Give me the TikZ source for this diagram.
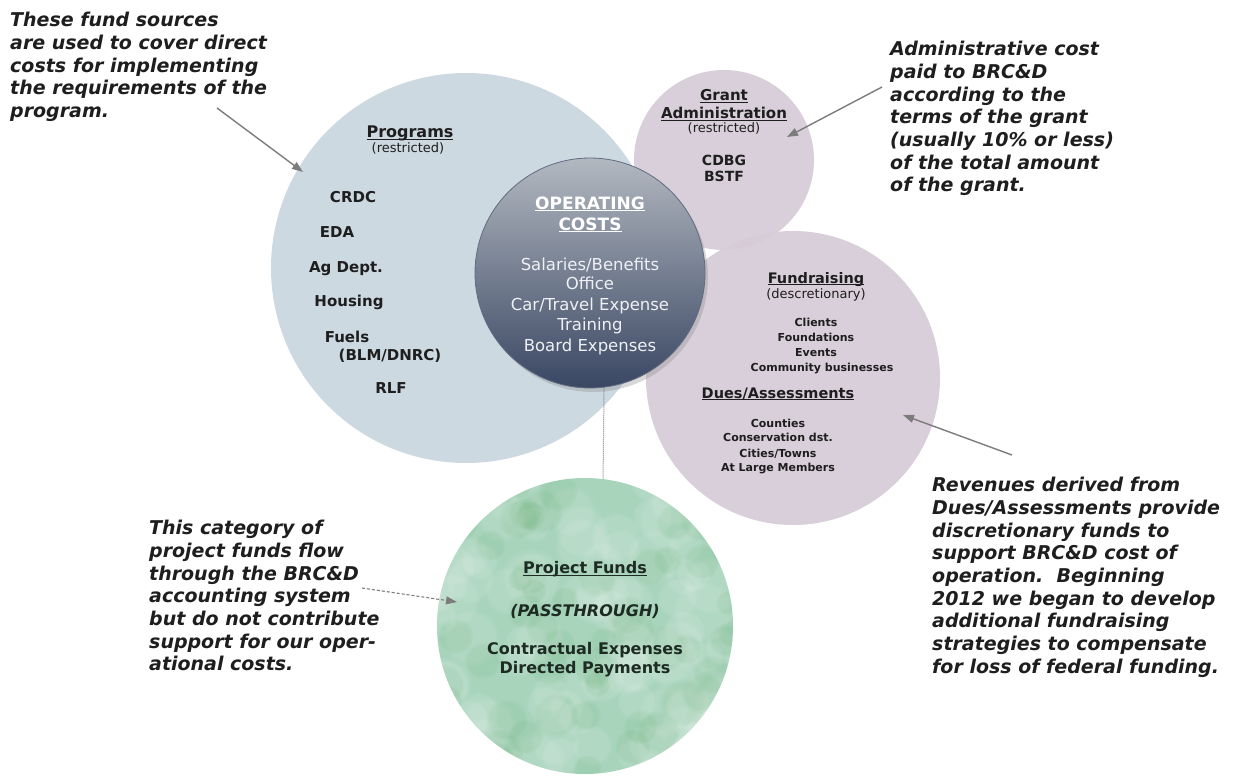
\documentclass[tikz,border=0pt]{standalone}
\usepackage{fontspec}
\setmainfont{DejaVu Sans}
\usetikzlibrary{arrows.meta,shadows,fadings}

\definecolor{progfill}{HTML}{CDD9E1}
\definecolor{purplefill}{HTML}{D6CBD7}
\definecolor{greenfill}{HTML}{A8D4BC}
\definecolor{opstop}{HTML}{B2B8C0}
\definecolor{opsmid}{HTML}{6E798C}
\definecolor{opsbottom}{HTML}{3A4763}
\definecolor{ink}{HTML}{1E1E1E}
\definecolor{greenink}{HTML}{1D2B23}
\definecolor{opsink}{HTML}{EEF1F4}
\definecolor{arrowgray}{HTML}{7C7C7C}

\newcommand{\fsz}[2]{\fontsize{#1}{#2}\selectfont}
% underline drawn just below the baseline (through descenders)
\newcommand{\ulbar}[1]{{\setbox0\hbox{#1}\rlap{\rule[-2.4pt]{\wd0}{1.1pt}}\box0}}

\begin{document}
\begin{tikzpicture}[x=1pt,y=-1pt,
  fund/.style={circle, inner sep=0pt, minimum size=#1},
  note/.style={anchor=north west, align=left, inner sep=0pt, text=ink,
    font=\fsz{19}{22.7}\bfseries\itshape},
  head/.style={anchor=base, inner sep=0pt, text=ink, font=\fsz{#1}{#1}\bfseries},
  sub/.style={anchor=base, inner sep=0pt, text=ink, font=\fsz{13}{13}},
  item/.style={anchor=base, inner sep=0pt, text=ink, font=\fsz{#1}{#1}\bfseries},
  opsline/.style={anchor=base, inner sep=0pt, text=opsink, font=\fsz{16.5}{16.5}},
  opshead/.style={anchor=base, inner sep=0pt, text=white, font=\fsz{17}{17}\bfseries},
  pointer/.style={draw=arrowgray, line width=1.4pt,
    -{Triangle[length=11pt,width=8pt]}},
  dashpointer/.style={draw=arrowgray, line width=1.1pt, densely dashed,
    -{Triangle[length=11pt,width=8pt]}}
]
\useasboundingbox (0,0) rectangle (1240,781);
\fill[white] (0,0) rectangle (1240,781);

% --- fund circles ---------------------------------------------------------
\node[fund=390pt, fill=progfill] (prog) at (466,268) {};
\node[fund=180pt, fill=purplefill, fill opacity=0.92] (grant) at (724,160) {};
\node[fund=294pt, fill=purplefill, fill opacity=0.92] (fund) at (793,378) {};
\node[fund=296pt, fill=greenfill] (proj) at (585,626) {};

% soft cloudy texture on the pass-through circle
\begin{scope}
  \path[clip] (proj.center) circle[radius=148pt];
  \pgfmathsetseed{11}
  \foreach \i in {1,...,90}{
    \pgfmathsetmacro\px{585+150*rand}
    \pgfmathsetmacro\py{626+150*rand}
    \pgfmathsetmacro\pr{16+16*rnd}
    \fill[white, opacity=0.10, path fading=circle with fuzzy edge 20 percent]
      (\px,\py) circle[radius=\pr pt];
  }
  \foreach \i in {1,...,60}{
    \pgfmathsetmacro\px{585+150*rand}
    \pgfmathsetmacro\py{626+150*rand}
    \pgfmathsetmacro\pr{12+12*rnd}
    \fill[black!55!green, opacity=0.05, path fading=circle with fuzzy edge 20 percent]
      (\px,\py) circle[radius=\pr pt];
  }
\end{scope}

% --- link between operating costs and project funds ------------------------
\node[fund=230pt] (opsgeom) at (590,273) {};
\draw[arrowgray, line width=1pt, densely dotted] (opsgeom.-83.5) -- (proj.83);

% --- operating costs circle --------------------------------------------------
\node[fund=230pt, draw=opsbottom!80, line width=0.8pt,
      top color=opstop, middle color=opsmid, bottom color=opsbottom,
      drop shadow={shadow xshift=3pt, shadow yshift=-4pt, opacity=0.3}]
      (ops) at (590,273) {};

% --- Programs texts ----------------------------------------------------------
\node[head=16] (progT) at (410,138) {\ulbar{Programs}};
\node[sub] (progS) at (408,153) {(restricted)};
\node[item=15] (p1) at (353,202.5) {CRDC};
\node[item=15] (p2) at (337,237.5) {EDA};
\node[item=15] (p3) at (346,272.5) {Ag Dept.};
\node[item=15] (p4) at (349,306.5) {Housing};
\node[item=15] (p5) at (347,342.5) {Fuels};
\node[item=15] (p6) at (390,360.5) {(BLM/DNRC)};
\node[item=15] (p7) at (391,393) {RLF};

% --- Grant Administration texts ----------------------------------------------
\node[head=15] (grT1) at (724,100.5) {\ulbar{Grant}};
\node[head=15] (grT2) at (724,118.5) {\ulbar{Administration}};
\node[sub] (grS) at (724,133) {(restricted)};
\node[item=14] (g1) at (724,165) {CDBG};
\node[item=14] (g2) at (724,182) {BSTF};

% --- Fundraising and dues texts ----------------------------------------------
\node[head=14.5] (frT) at (816,283) {\ulbar{Fundraising}};
\node[sub] (frS) at (816,298) {(descretionary)};
\node[item=11] (f1) at (816,326) {Clients};
\node[item=11] (f2) at (816,341) {Foundations};
\node[item=11] (f3) at (816,356) {Events};
\node[item=11] (f4) at (822,371) {Community businesses};
\node[head=14.5] (duT) at (778,398) {\ulbar{Dues/Assessments}};
\node[item=11] (d1) at (778,427) {Counties};
\node[item=11] (d2) at (778,441) {Conservation dst.};
\node[item=11] (d3) at (778,457) {Cities/Towns};
\node[item=11] (d4) at (778,471) {At Large Members};

% --- Operating costs texts ---------------------------------------------------
\node[opshead] (opT1) at (590,209) {\ulbar{OPERATING}};
\node[opshead] (opT2) at (590,230) {\ulbar{COSTS}};
\node[opsline] (o1) at (590,270) {Salaries/Benefits};
\node[opsline] (o2) at (590,289.5) {Office};
\node[opsline] (o3) at (590,310) {Car/Travel Expense};
\node[opsline] (o4) at (590,330.5) {Training};
\node[opsline] (o5) at (590,351) {Board Expenses};

% --- Project funds texts -----------------------------------------------------
\node[head=16, text=greenink] (pjT) at (585,573.5) {\ulbar{Project Funds}};
\node[anchor=base, inner sep=0pt, text=greenink, font=\fsz{16}{16}\bfseries\itshape]
  (pjS) at (585,616) {(PASSTHROUGH)};
\node[item=16, text=greenink] (pj1) at (585,654) {Contractual Expenses};
\node[item=16, text=greenink] (pj2) at (585,673) {Directed Payments};

% --- annotations ---------------------------------------------------------------
\node[note] (noteProg) at (10,12) {These fund sources\\are used to cover direct\\costs for implementing\\the requirements of the\\program.};
\node[note] (noteGrant) at (890,41) {Administrative cost\\paid to BRC\&D\\according to the\\terms of the grant\\(usually 10\% or less)\\of the total amount\\of the grant.};
\node[note] (notePass) at (149,520) {This category of\\project funds flow\\through the BRC\&D\\accounting system\\but do not contribute\\support for our oper-\\ational costs.};
\node[note] (noteDues) at (932,477) {Revenues derived from\\Dues/Assessments provide\\discretionary funds to\\support BRC\&D cost of\\operation.\ \ Beginning\\2012 we began to develop\\additional fundraising\\strategies to compensate\\for loss of federal funding.};

% --- pointers ------------------------------------------------------------------
\coordinate (srcProg) at (217,108);
\coordinate (tipProg) at (303,172);
\coordinate (srcGrant) at (882,87);
\coordinate (tipGrant) at (787,137);
\coordinate (srcDues) at (1012,455);
\coordinate (tipDues) at (903,415);
\coordinate (srcPass) at (362,588);
\coordinate (tipPass) at (457,602);
\draw[pointer] (srcProg) -- (tipProg);
\draw[pointer] (srcGrant) -- (tipGrant);
\draw[pointer] (srcDues) -- (tipDues);
\draw[dashpointer] (srcPass) -- (tipPass);
\end{tikzpicture}
\end{document}
